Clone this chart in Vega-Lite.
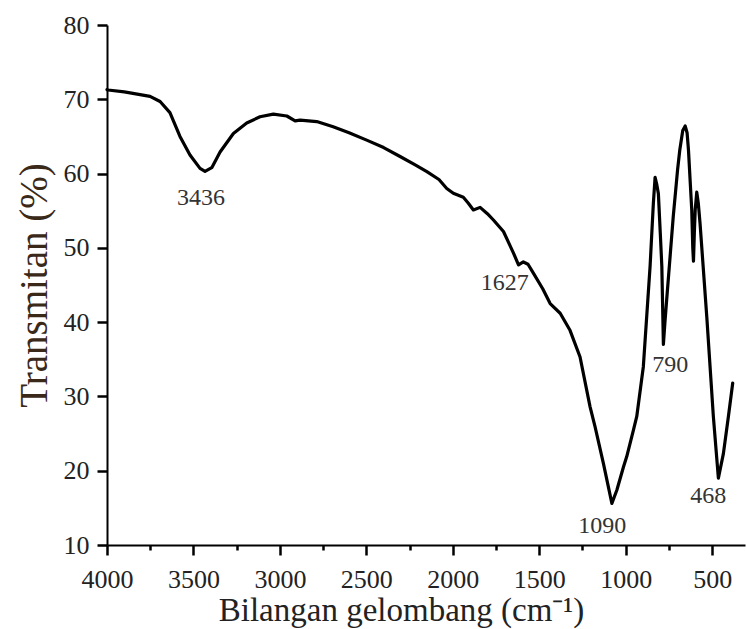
{
  "$schema": "https://vega.github.io/schema/vega-lite/v6.json",
  "width": 638,
  "height": 520,
  "autosize": "none",
  "padding": {"left": 107, "top": 25, "right": 2, "bottom": 84},
  "background": "white",
  "config": {
    "view": {"stroke": null},
    "font": "Liberation Serif",
    "axis": {
      "grid": false,
      "domainColor": "black",
      "domainWidth": 2,
      "tickColor": "black",
      "tickWidth": 2.5,
      "ticks": true,
      "labelFlush": false,
      "labelFont": "Liberation Serif",
      "labelFontSize": 26,
      "labelColor": "#222222",
      "titleFont": "Liberation Serif",
      "titleFontWeight": "normal"
    }
  },
  "datasets": {
    "spectrum": [
      {"w": 4000, "t": 71.3}, {"w": 3994, "t": 71.25}, {"w": 3900, "t": 71.0}, {"w": 3850, "t": 70.8},
      {"w": 3751, "t": 70.4}, {"w": 3693, "t": 69.7}, {"w": 3636, "t": 68.2}, {"w": 3578, "t": 65.0},
      {"w": 3520, "t": 62.5}, {"w": 3462, "t": 60.7}, {"w": 3433, "t": 60.3}, {"w": 3394, "t": 60.8},
      {"w": 3346, "t": 62.9}, {"w": 3269, "t": 65.4}, {"w": 3192, "t": 66.8}, {"w": 3115, "t": 67.65},
      {"w": 3038, "t": 68.0}, {"w": 2960, "t": 67.75}, {"w": 2912, "t": 67.1}, {"w": 2883, "t": 67.2},
      {"w": 2787, "t": 67.0}, {"w": 2692, "t": 66.3}, {"w": 2600, "t": 65.5}, {"w": 2498, "t": 64.5},
      {"w": 2400, "t": 63.5}, {"w": 2305, "t": 62.3}, {"w": 2220, "t": 61.2}, {"w": 2150, "t": 60.25},
      {"w": 2080, "t": 59.2}, {"w": 2035, "t": 58.0}, {"w": 1997, "t": 57.35}, {"w": 1939, "t": 56.8},
      {"w": 1910, "t": 56.0}, {"w": 1881, "t": 55.1}, {"w": 1842, "t": 55.45}, {"w": 1800, "t": 54.6},
      {"w": 1765, "t": 53.75}, {"w": 1707, "t": 52.2}, {"w": 1649, "t": 49.3}, {"w": 1620, "t": 47.7},
      {"w": 1592, "t": 48.1}, {"w": 1565, "t": 47.8}, {"w": 1534, "t": 46.6}, {"w": 1480, "t": 44.5},
      {"w": 1437, "t": 42.5}, {"w": 1379, "t": 41.2}, {"w": 1322, "t": 38.9}, {"w": 1264, "t": 35.3},
      {"w": 1206, "t": 28.6}, {"w": 1177, "t": 25.9}, {"w": 1129, "t": 21.0}, {"w": 1080, "t": 15.6},
      {"w": 1051, "t": 17.4}, {"w": 1013, "t": 20.5}, {"w": 994, "t": 21.9}, {"w": 955, "t": 25.5},
      {"w": 936, "t": 27.3}, {"w": 898, "t": 34.0}, {"w": 859, "t": 47.5}, {"w": 840, "t": 56.0},
      {"w": 830, "t": 59.5}, {"w": 820, "t": 58.5}, {"w": 811, "t": 57.3}, {"w": 800, "t": 52.0},
      {"w": 791, "t": 47.5}, {"w": 782, "t": 37.0}, {"w": 773, "t": 40.0}, {"w": 763, "t": 43.0},
      {"w": 725, "t": 54.2}, {"w": 700, "t": 60.5}, {"w": 687, "t": 63.2}, {"w": 670, "t": 65.8},
      {"w": 656, "t": 66.4}, {"w": 645, "t": 65.5}, {"w": 637, "t": 63.2}, {"w": 618, "t": 55.1},
      {"w": 612, "t": 50.0}, {"w": 608, "t": 48.2}, {"w": 603, "t": 52.0}, {"w": 598, "t": 55.1},
      {"w": 589, "t": 57.5}, {"w": 580, "t": 56.0}, {"w": 570, "t": 53.3}, {"w": 531, "t": 40.7},
      {"w": 493, "t": 27.3}, {"w": 464, "t": 19.0}, {"w": 435, "t": 22.3}, {"w": 406, "t": 27.3},
      {"w": 381, "t": 31.8}
    ],
    "peaks": [
      {"w": 3456, "t": 56.7, "label": "3436"},
      {"w": 1700, "t": 45.3, "label": "1627"},
      {"w": 1136, "t": 12.6, "label": "1090"},
      {"w": 743, "t": 34.2, "label": "790"},
      {"w": 523, "t": 16.6, "label": "468"}
    ]
  },
  "layer": [
    {
      "data": {"name": "spectrum"},
      "mark": {"type": "line", "color": "black", "strokeWidth": 3.2, "strokeJoin": "round", "strokeCap": "round"},
      "encoding": {
        "x": {
          "field": "w", "type": "quantitative",
          "scale": {"domain": [4000, 310], "nice": false, "zero": false},
          "axis": {
            "orient": "bottom",
            "values": [4000, 3750, 3500, 3250, 3000, 2750, 2500, 2250, 2000, 1750, 1500, 1250, 1000, 750, 500],
            "labelExpr": "datum.value % 500 === 0 ? format(datum.value, 'd') : ''",
            "labelOverlap": false,
            "tickSize": {"condition": {"test": "datum.value % 500 === 0", "value": 10}, "value": 5},
            "labelPadding": 11,
            "title": "Bilangan gelombang (cm⁻¹)",
            "titleFontSize": 33,
            "titleColor": "#222222",
            "titlePadding": 2,
            "titleX": 294
          }
        },
        "y": {
          "field": "t", "type": "quantitative",
          "scale": {"domain": [10, 80], "nice": false, "zero": false},
          "axis": {
            "orient": "left",
            "values": [10, 15, 20, 25, 30, 35, 40, 45, 50, 55, 60, 65, 70, 75, 80],
            "labelExpr": "datum.value % 10 === 0 ? format(datum.value, 'd') : ''",
            "labelOverlap": false,
            "tickSize": {"condition": {"test": "datum.value % 10 === 0", "value": 10}, "value": 5},
            "labelPadding": 8,
            "title": "Transmitan (%)",
            "titleFontSize": 39,
            "titleColor": "#3a2818",
            "titlePadding": 9
          }
        }
      }
    },
    {
      "data": {"name": "peaks"},
      "mark": {"type": "text", "fontSize": 24, "font": "Liberation Serif", "color": "#333333", "baseline": "middle", "align": "center"},
      "encoding": {
        "x": {"field": "w", "type": "quantitative"},
        "y": {"field": "t", "type": "quantitative"},
        "text": {"field": "label"}
      }
    }
  ]
}
